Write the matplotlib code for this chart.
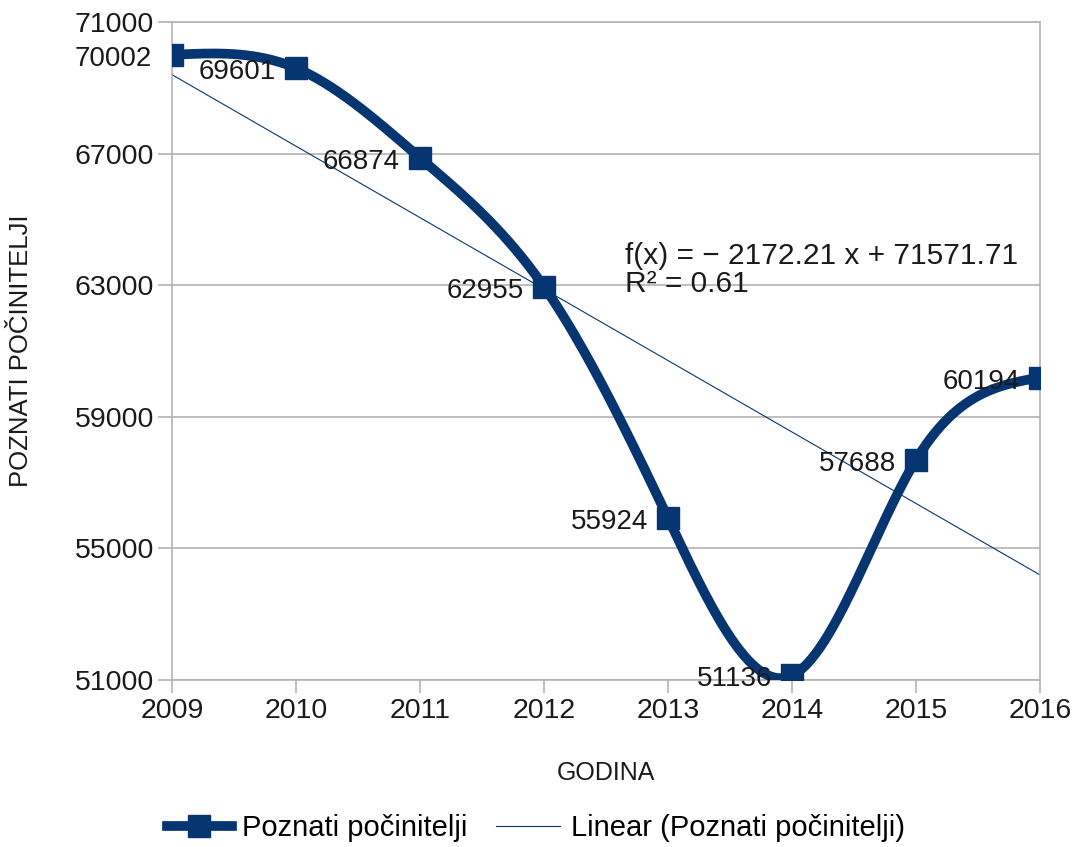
import numpy as np
import matplotlib
matplotlib.use("Agg")
import matplotlib.pyplot as plt

plt.rcParams['font.family'] = ['Liberation Sans', 'DejaVu Sans']

# data
years = [2009, 2010, 2011, 2012, 2013, 2014, 2015, 2016]
values = [70002, 69601, 66874, 62955, 55924, 51136, 57688, 60194]
series_name = 'Poznati počinitelji'
navy = '#063672'
grid_gray = '#b3b3b3'


def natural_spline(x, y, n=400):
    # natural cubic spline through the data points (smooth line rendering)
    x = np.asarray(x, float)
    y = np.asarray(y, float)
    k = len(x)
    h = np.diff(x)
    A = np.zeros((k, k))
    b = np.zeros(k)
    A[0, 0] = A[-1, -1] = 1
    for i in range(1, k - 1):
        A[i, i - 1] = h[i - 1]
        A[i, i] = 2 * (h[i - 1] + h[i])
        A[i, i + 1] = h[i]
        b[i] = 6 * ((y[i + 1] - y[i]) / h[i] - (y[i] - y[i - 1]) / h[i - 1])
    M = np.linalg.solve(A, b)
    xs = np.linspace(x[0], x[-1], n)
    idx = np.clip(np.searchsorted(x, xs) - 1, 0, k - 2)
    x0, x1 = x[idx], x[idx + 1]
    hh = x1 - x0
    t0, t1 = x1 - xs, xs - x0
    ys = (M[idx] * t0**3 / (6 * hh) + M[idx + 1] * t1**3 / (6 * hh)
          + (y[idx] / hh - M[idx] * hh / 6) * t0
          + (y[idx + 1] / hh - M[idx + 1] * hh / 6) * t1)
    return xs, ys


fig = plt.figure(figsize=(10.72, 8.47), dpi=100)
ax = fig.add_axes([0.1604, 0.1972, 0.8097, 0.7768])

xs, ys = natural_spline(years, values)
ax.plot(xs, ys, color=navy, lw=7, solid_capstyle='butt', zorder=3)
ax.plot(years, values, ls='none', marker='s', ms=16, color=navy, zorder=4)

# linear trend (x = 1..n as in the spreadsheet)
idx = np.arange(1, len(years) + 1)
slope, intercept = np.polyfit(idx, values, 1)
trend = slope * idx + intercept
ax.plot(years, trend, color=navy, lw=0.8, zorder=2)
ss_res = np.sum((np.array(values) - trend) ** 2)
ss_tot = np.sum((np.array(values) - np.mean(values)) ** 2)
r2 = 1 - ss_res / ss_tot
ax.text(0.522, 0.623, f'f(x) = − {abs(slope):.2f} x + {intercept:.2f}\nR² = {r2:.2f}',
        transform=ax.transAxes, fontsize=21.5, color='#1a1a1a', linespacing=1.0,
        va='center', ha='left', zorder=5)

for x, v in zip(years, values):
    ax.annotate(str(v), (x, v), xytext=(-20, -4), textcoords='offset pixels',
                ha='right', va='center', fontsize=20, color='#1a1a1a',
                zorder=5, annotation_clip=False)

ax.set_xlim(2009, 2016)
ax.set_ylim(51000, 71000)
ax.set_xticks(years)
ax.set_yticks([51000, 55000, 59000, 63000, 67000, 71000])
ax.tick_params(axis='both', labelsize=20.5, colors=grid_gray, labelcolor='#1a1a1a',
               length=9, width=1.2)
ax.tick_params(axis='y', length=10, pad=3)
ax.tick_params(axis='x', pad=4)
ax.grid(axis='y', color=grid_gray, lw=1.2)
ax.set_axisbelow(True)
for s in ax.spines.values():
    s.set_color(grid_gray)
    s.set_linewidth(1.2)

ax.set_xlabel('GODINA', fontsize=18, color='#1a1a1a')
ax.xaxis.set_label_coords(0.5, -0.123)
ax.set_ylabel('POZNATI POČINITELJI', fontsize=18.5, color='#1a1a1a')
ax.yaxis.set_label_coords(-0.160, 0.5)

h1, = ax.plot([], [], color=navy, lw=7, marker='s', ms=16)
h2, = ax.plot([], [], color=navy, lw=0.8)
fig.legend([h1, h2], [series_name, f'Linear ({series_name})'], loc='center',
           bbox_to_anchor=(0.5, 0.022), ncol=2, frameon=False, fontsize=21,
           handlelength=2.2, columnspacing=1.0, handletextpad=0.35)

fig.savefig('out.png', dpi=100)
